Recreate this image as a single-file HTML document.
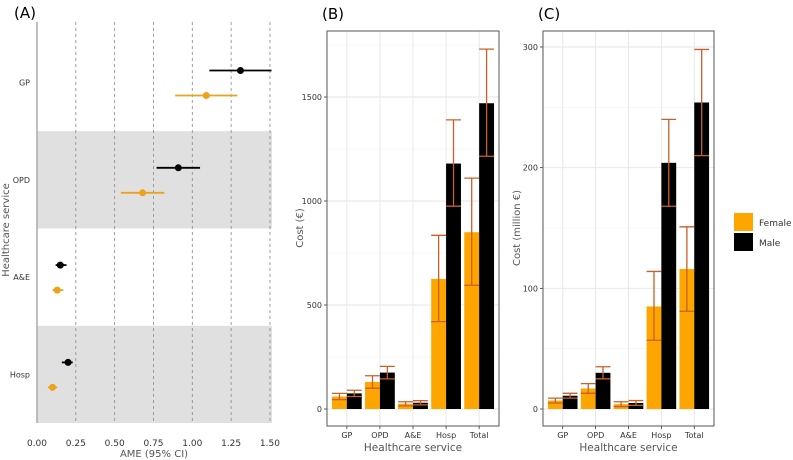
<!DOCTYPE html>
<html><head><meta charset="utf-8"><style>
html,body{margin:0;padding:0;background:#fff;}
svg{display:block;font-family:"DejaVu Sans","Liberation Sans",sans-serif;}
</style></head><body>
<svg id="fig" width="793" height="460" viewBox="0 0 793 460"></svg>
<script>
// Panel A data
const aCats = ["GP","OPD","A&E","Hosp"];
const aMale = [1.31,0.91,0.15,0.20];
const aMaleLo = [1.11,0.77,0.12,0.16];
const aMaleHi = [1.51,1.05,0.19,0.23];
const aFem = [1.09,0.68,0.13,0.10];
const aFemLo = [0.89,0.54,0.10,0.07];
const aFemHi = [1.29,0.82,0.17,0.13];
const aTicks = [0,0.25,0.5,0.75,1.0,1.25,1.5];
const aTickLabels = ["0.00","0.25","0.50","0.75","1.00","1.25","1.50"];
// Panel B data
const bCats = ["GP","OPD","A&E","Hosp","Total"];
const bFem = [60,130,25,625,850];
const bFemLo = [45,100,15,420,595];
const bFemHi = [75,160,35,835,1110];
const bMale = [75,175,30,1180,1470];
const bMaleLo = [60,145,20,975,1215];
const bMaleHi = [90,205,40,1390,1730];
const bTicks = [0,500,1000,1500];
// Panel C data
const cFem = [7,17,4,85,116];
const cFemLo = [5,13,2,57,81];
const cFemHi = [9,21,6,114,151];
const cMale = [11,30,5,204,254];
const cMaleLo = [9,25,3,168,210];
const cMaleHi = [13,35,7,240,298];
const cTicks = [0,100,200,300];

const svg = document.getElementById('fig');
const NS = "http://www.w3.org/2000/svg";
function el(tag, attrs, parent){
  const e = document.createElementNS(NS, tag);
  for (const k in attrs) e.setAttribute(k, attrs[k]);
  (parent||svg).appendChild(e);
  return e;
}
function txt(x,y,s,size,fill,anchor,parent){
  const t = el('text',{x:x,y:y,'font-size':size,fill:fill,'text-anchor':anchor||'middle'},parent);
  t.textContent = s;
  return t;
}
const ORANGE="#ffa500", ERR="#c8602a", DOT="#eea21a";

// ---------- Panel A ----------
const gA = el('g',{});


const ax = v => 37 + v*155.3;
const aStep = 97.3;
const aCy = i => 82.5 + aStep*i;
aCats.forEach((c,i)=>{
  if(i%2===1){
    const r = el('rect',{x:37,y:aCy(i)-aStep/2,width:235,height:aStep,fill:"#e0e0e0"},gA);
    
    
  }
});
aTicks.forEach((t,i)=>{
  if(i>0){
    const l = el('line',{x1:ax(t),x2:ax(t),y1:22,y2:423,stroke:"#888",'stroke-width':0.8,'stroke-dasharray':"3,3"},gA);
    
    
  }
  const tl = txt(ax(t),446,aTickLabels[i],9,"#333",'middle',gA);
  
  
});
const axA = el('line',{x1:37,x2:37,y1:22,y2:423,stroke:"#aaa",'stroke-width':1.5},gA);


aCats.forEach((c,i)=>{
  const cy = aCy(i);
  const lab = txt(30,cy+3,c,8,"#333",'end',gA);
  
  
  const ym = cy-12, yf = cy+13;
  const lm = el('line',{x1:ax(aMaleLo[i]),x2:ax(aMaleHi[i]),y1:ym,y2:ym,stroke:"#000",'stroke-width':1.8},gA);
  
  
  const pm = el('circle',{cx:ax(aMale[i]),cy:ym,r:3.5,fill:"#000"},gA);
  
  
  const lf = el('line',{x1:ax(aFemLo[i]),x2:ax(aFemHi[i]),y1:yf,y2:yf,stroke:DOT,'stroke-width':1.8},gA);
  
  
  const pf = el('circle',{cx:ax(aFem[i]),cy:yf,r:3.5,fill:DOT},gA);
  
  
});
const ta = txt(25,18,"(A)",15,"#000",'middle',gA);
 
const xtA = txt(154,457,"AME (95% CI)",10,"#555",'middle',gA);
 
const ytA = txt(0,0,"Healthcare service",10,"#555",'middle',gA);
ytA.setAttribute('transform','translate(9,230) rotate(-90)');
 

// ---------- Bar panels ----------
function barPanel(name, x0, x1, maxV, zeroY, topY, ticks, fem, femLo, femHi, male, maleLo, maleHi, ytitle, ytx, plabel){
  const g = el('g',{});
  
  
  const yTop=31, yBot=426;
  const ys = v => zeroY - v*(zeroY-topY)/maxV;
  const step = (x1-x0)/5.2;
  const xs = i => x0 + step*(i+0.6);
  for(let k=0;k<ticks.length;k++){
    const mv = ticks[k] + (ticks[1]-ticks[0])/2;
    if(ys(mv)>yTop){
      const m = el('line',{x1:x0,x2:x1,y1:ys(mv),y2:ys(mv),stroke:"#f2f2f2",'stroke-width':0.6},g);
       
    }
  }
  ticks.forEach(t=>{
    const l = el('line',{x1:x0,x2:x1,y1:ys(t),y2:ys(t),stroke:"#e6e6e6",'stroke-width':0.9},g);
     
    const tk = el('line',{x1:x0-3,x2:x0,y1:ys(t),y2:ys(t),stroke:"#333",'stroke-width':0.8},g);
     
    const lb = txt(x0-5,ys(t)+3,String(t),8,"#333",'end',g);
     
  });
  bCats.forEach((c,i)=>{
    const vl = el('line',{x1:xs(i),x2:xs(i),y1:yTop,y2:yBot,stroke:"#e6e6e6",'stroke-width':0.9},g);
     
  });
  const bw = step*0.45;
  bCats.forEach((c,i)=>{
    const xf = xs(i)-bw, xm = xs(i);
    const rf = el('rect',{x:xf,y:ys(fem[i]),width:bw,height:ys(0)-ys(fem[i]),fill:ORANGE},g);
    
    
    const rm = el('rect',{x:xm,y:ys(male[i]),width:bw,height:ys(0)-ys(male[i]),fill:"#000"},g);
    
    
    [[xf+bw/2,femLo[i],femHi[i]],[xm+bw/2,maleLo[i],maleHi[i]]].forEach(([cx,lo,hi])=>{
      const e = el('path',{d:`M${cx-bw/2},${ys(hi)}H${cx+bw/2}M${cx},${ys(hi)}V${ys(lo)}M${cx-bw/2},${ys(lo)}H${cx+bw/2}`,stroke:ERR,'stroke-width':1.3,fill:'none'},g);
       
    });
    const xl = txt(xs(i),438,c,8,"#333",'middle',g);
     
    const xt = el('line',{x1:xs(i),x2:xs(i),y1:yBot,y2:yBot+3,stroke:"#333",'stroke-width':0.8},g);
     
  });
  const box = el('rect',{x:x0,y:yTop,width:x1-x0,height:yBot-yTop,fill:'none',stroke:"#555",'stroke-width':1},g);
   
  const xt = txt((x0+x1)/2,451,"Healthcare service",10.5,"#555",'middle',g);
   
  const yt = txt(0,0,ytitle,10,"#555",'middle',g);
  yt.setAttribute('transform',`translate(${ytx},228) rotate(-90)`);
   
  const pl = txt(x0-5,19,plabel,15,"#000",'start',g);
   
}
barPanel('panel-b',327,499,1500,409,97,bTicks,bFem,bFemLo,bFemHi,bMale,bMaleLo,bMaleHi,"Cost (€)",303,"(B)");
barPanel('panel-c',543,714,300,409,47,cTicks,cFem,cFemLo,cFemHi,cMale,cMaleLo,cMaleHi,"Cost (million €)",520,"(C)");

// Legend
const lg = el('g',{});
 
const s1 = el('rect',{x:734,y:213,width:19,height:18,fill:ORANGE},lg);
 
const s2 = el('rect',{x:734,y:233,width:19,height:18,fill:"#000"},lg);
 
const t1 = txt(759,226,"Female",9,"#333",'start',lg);
 
const t2 = txt(759,246,"Male",9,"#333",'start',lg);
 
</script>
</body></html>
